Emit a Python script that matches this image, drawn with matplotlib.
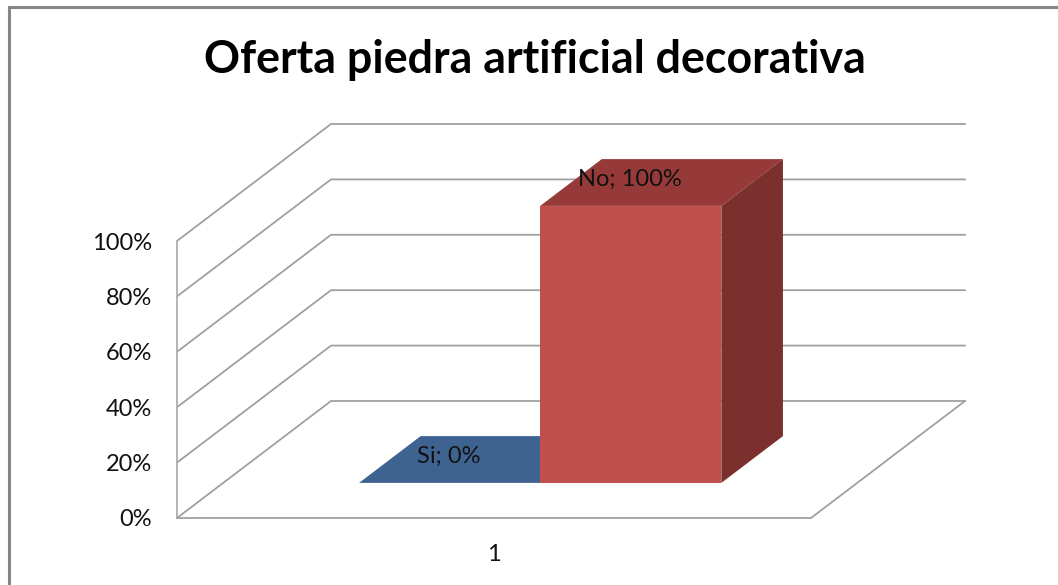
#!/usr/bin/env python3
"""Oferta piedra artificial decorativa: fake 3D stacked column, Excel style."""

import matplotlib
matplotlib.use("Agg")
import matplotlib.pyplot as plt
from matplotlib.patches import Polygon, Rectangle

plt.rcParams["font.family"] = ["Lato", "DejaVu Sans"]

TITLE = "Oferta piedra artificial decorativa"
CATEGORIES = ["1"]
SERIES = ["Si", "No"]
VALUES = [0, 100]
Y_TICKS = [0, 20, 40, 60, 80, 100]

FRONT = {"Si": "#3f6391", "No": "#c0504d"}
TOP = {"Si": "#3f6391", "No": "#953a38"}
SIDE = {"Si": "#2f4a6d", "No": "#7b302e"}
GRID = "#a0a0a0"

W, H = 1058, 585

# floor depth in data units (154 px right, 117 px up at full depth)
DEPTH_X = 154 / 634
DEPTH_Y = 117 / 277 * 100
BAR_W = 1 / 3.5
BAR_D0, BAR_D1 = 0.3, 0.7


def proj(x, y, d):
    return x + d * DEPTH_X, y + d * DEPTH_Y


fig = plt.figure(figsize=(W / 100, H / 100), dpi=100)
fig.patches.append(Rectangle((8.5 / W, -0.02), (W + 20) / W, 1.02 - 6.5 / H, transform=fig.transFigure,
                             fill=False, edgecolor="#868686", linewidth=2.2))

ax = fig.add_axes([177 / W, 1 - 518 / H, 634 / W, 277 / H])
ax.set_xlim(0, 1)
ax.set_ylim(0, 100)
ax.patch.set_visible(False)
for sp in ax.spines.values():
    sp.set_visible(False)

ax.set_xticks([0.5])
ax.set_xticklabels(CATEGORIES)
ax.set_yticks(Y_TICKS)
ax.set_yticklabels([f"{v}%" for v in Y_TICKS])
ax.tick_params(axis="both", length=0, labelsize=17, colors="#111111")
ax.tick_params(axis="y", pad=18)
ax.tick_params(axis="x", pad=19)

# walls and floor
for v in Y_TICKS:
    xs, ys = zip(proj(0, v, 0), proj(0, v, 1), proj(1, v, 1))
    ax.plot(xs, ys, color=GRID, lw=1.3, clip_on=False, zorder=1)
ax.plot([0, 0], [0, 100], color="#b4b4b4", lw=1.4, clip_on=False, zorder=1)
xs, ys = zip(proj(0, 0, 0), proj(1, 0, 0), proj(1, 0, 1))
ax.plot(xs, ys, color=GRID, lw=1.3, clip_on=False, zorder=1)

# stacked column
x0 = 0.75 * BAR_W
base = 0
for i, (name, val) in enumerate(zip(SERIES, VALUES)):
    left = x0 + i * BAR_W
    right = left + BAR_W
    fx, fy = proj(left, base, BAR_D0)
    ax.bar(fx, val, BAR_W, bottom=fy, align="edge", color=FRONT[name], linewidth=0,
           zorder=3, clip_on=False)
    top = base + val
    ax.add_patch(Polygon([proj(left, top, BAR_D0), proj(right, top, BAR_D0),
                          proj(right, top, BAR_D1), proj(left, top, BAR_D1)],
                         closed=True, facecolor=TOP[name], edgecolor="none", clip_on=False, zorder=3))
    if val > 0:
        ax.add_patch(Polygon([proj(right, base, BAR_D0), proj(right, top, BAR_D0),
                              proj(right, top, BAR_D1), proj(right, base, BAR_D1)],
                             closed=True, facecolor=SIDE[name], edgecolor="none", clip_on=False, zorder=3))
    cx, cy = proj(left + BAR_W / 2, top, (BAR_D0 + BAR_D1) / 2)
    ax.annotate(f"{name}; {val}%", (cx, cy), xytext=(-23, 2), textcoords="offset points",
                ha="center", va="center", fontsize=17, color="#111111", zorder=5,
                annotation_clip=False)
    base = top

fig.text(535 / W, 1 - 60 / H, TITLE, ha="center", va="center", fontsize=32.2,
         fontweight="bold", color="black")

fig.savefig("out.png", dpi=100)
